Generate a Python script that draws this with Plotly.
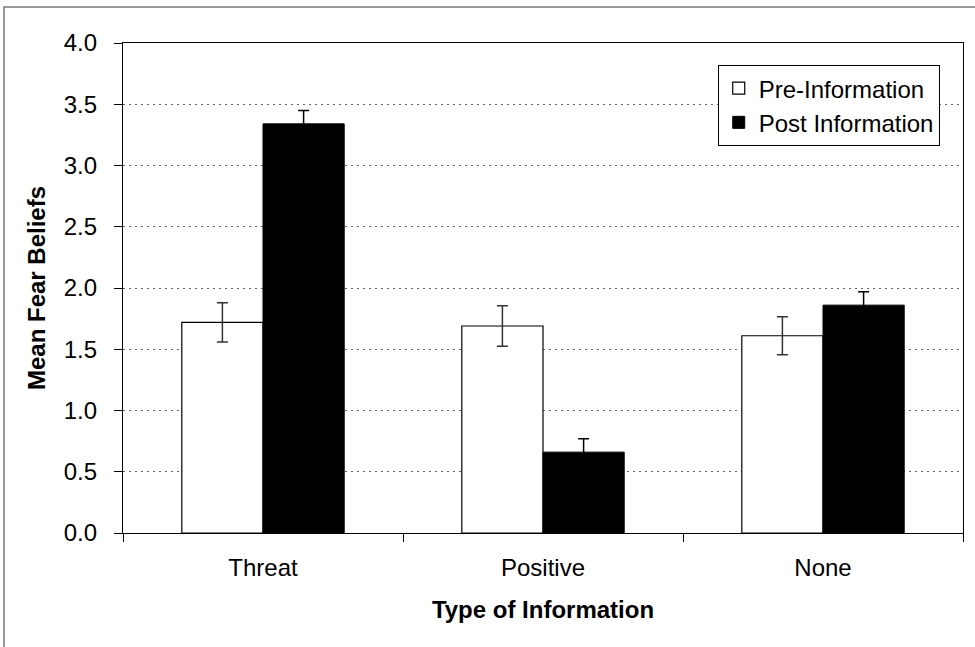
import plotly.graph_objects as go

categories = ["Threat", "Positive", "None"]
pre_values = [1.72, 1.69, 1.61]
pre_errors = [0.16, 0.165, 0.155]
post_values = [3.34, 0.66, 1.86]
post_errors = [0.11, 0.11, 0.11]
y_ticks = [0.0, 0.5, 1.0, 1.5, 2.0, 2.5, 3.0, 3.5, 4.0]
y_tick_labels = [f"{v:.1f}" for v in y_ticks]

FONT = "Liberation Sans, Arial, Helvetica, sans-serif"

fig = go.Figure()
fig.add_trace(go.Bar(
    name="Pre-Information", x=categories, y=pre_values,
    marker=dict(color="white", line=dict(color="black", width=1.2)),
    error_y=dict(type="data", array=pre_errors, color="#333", thickness=1.5, width=5.5),
))
fig.add_trace(go.Bar(
    name="Post Information", x=categories, y=post_values,
    marker=dict(color="black", line=dict(color="black", width=1)),
    error_y=dict(type="data", array=post_errors, color="black", thickness=1.5, width=5.5),
))

# outer frame (left and top edges visible)
fig.add_shape(type="path", xref="paper", yref="paper",
              path="M -0.1417,-0.3 L -0.1417,1.0735 L 1.1,1.0735",
              line=dict(color="#777", width=1.5))

fig.update_layout(
    width=975, height=647,
    margin=dict(l=123, r=12, t=43, b=114),
    paper_bgcolor="white", plot_bgcolor="white",
    barmode="group", bargap=0.42, bargroupgap=0,
    font=dict(family=FONT, size=24, color="black"),
    showlegend=True,
    legend=dict(
        x=0.708, y=0.955, xanchor="left", yanchor="top",
        bordercolor="black", borderwidth=1, bgcolor="white",
        font=dict(size=24), itemwidth=30, tracegroupgap=0,
    ),
    xaxis=dict(
        showline=True, linecolor="black", linewidth=1.2, mirror=True,
        ticks="outside", tickson="boundaries", ticklen=8, tickcolor="black",
        title=dict(text="<b>Type of Information</b>", font=dict(size=24), standoff=21),
        ticklabelstandoff=13,
    ),
    yaxis=dict(
        range=[0, 4.0], tickvals=y_ticks, ticktext=y_tick_labels,
        showline=True, linecolor="black", linewidth=1.2, mirror=True,
        ticks="outside", ticklen=8, tickcolor="black",
        showgrid=True, gridcolor="#666", gridwidth=1, griddash="2px,4px",
        zeroline=False,
        title=dict(text="<b>Mean Fear Beliefs</b>", font=dict(size=24), standoff=11),
        ticklabelstandoff=12,
    ),
)

fig.write_html(
    "out.html",
    config={"displayModeBar": False},
    post_script="document.body.style.margin='0';document.body.style.overflow='hidden';",
)
